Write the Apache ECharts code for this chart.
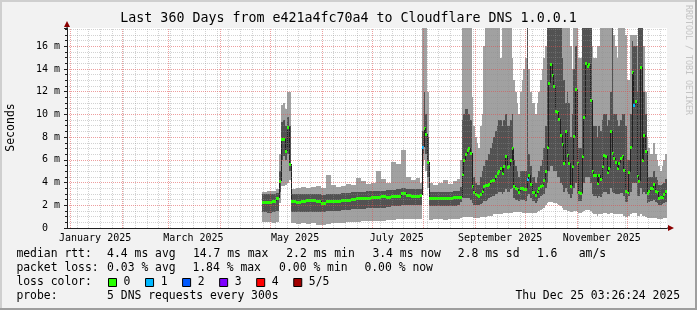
<!DOCTYPE html>
<html><head><meta charset="utf-8">
<script src="https://cdn.jsdelivr.net/npm/echarts@6/dist/echarts.min.js"></script>
<style>html,body{margin:0;padding:0;background:#f2f2f2}#c{width:697px;height:310px}</style>
</head><body><div id="c"></div>
<script>
// ---- time axis (days since 2025-01-01 00:00) ----
const X_MIN = -1.857, X_MAX = 358.143, Y_MAX = 17.6;
const monthStarts = [0,31,59,90,120,151,181,212,243,273,304,334];
const monthLabelDays = [15,74,135,196,258,319];
const monthLabels = ['January 2025','March 2025','May 2025','July 2025','September 2025','November 2025'];
const firstSunday = 4;

// ---- samples: start day of each column, values in ms ----
const startDay = [
 115.1,118,121,123.5,
 125.4,126.4,127.6,128.8,130.0,131.2,
 132.3,135.3,138.3,141.3,144.3,147.3,150.3,153.3,156.3,159.3,162.3,165.3,168.3,171.3,174.3,177.3,180.3,183.3,186.3,189.3,192.3,195.3,198.3,201.3,204.3,207.3,210.0,
 211.2,212.2,213.2,214.2,
 215.2,218,221,224,227,230,232,
 233.9,234.9,235.9,236.9,237.9,238.9,239.9,240.9,241.9,242.9,
 243.9,244.9,245.9,246.9,247.9,248.9,249.9,250.9,251.9,252.9,
 253.9,254.9,255.9,256.9,257.9,258.9,259.9,260.9,261.9,262.9,
 263.9,264.9,265.9,266.9,267.9,268.9,269.9,270.9,271.9,272.9,
 273.9,274.9,275.9,276.9,277.9,278.9,279.9,280.9,281.9,282.9,
 283.9,284.9,285.9,286.9,287.9,288.9,289.9,290.9,291.9,292.9,
 293.9,294.9,295.9,296.9,297.9,298.9,299.9,300.9,301.9,302.9,
 303.9,304.9,305.9,306.9,307.9,308.9,309.9,310.9,311.9,312.9,
 313.9,314.9,315.9,316.9,317.9,318.9,319.9,320.9,321.9,322.9,
 323.9,324.9,325.9,326.9,327.9,328.9,329.9,330.9,331.9,332.9,
 333.9,334.9,335.9,336.9,337.9,338.9,339.9,340.9,341.9,342.9,
 343.9,344.9,345.9,346.9,347.9,348.9,349.9,350.9,351.9,352.9,
 353.9,354.9,355.9,356.9
];
const endDay = 358.1;

const rttMin = [
 0.5,0.5,0.45,0.5,
 2.2,3.7,3.7,3.8,4.0,4.2,
 0.4,0.35,0.4,0.35,0.4,0.3,0.3,0.35,0.4,0.4,0.45,0.5,0.55,0.55,0.6,0.6,0.6,0.65,0.65,0.7,0.7,0.75,0.75,0.75,0.8,0.8,0.8,
 5.5,6.0,5.0,3.5,
 0.7,0.75,0.75,0.7,0.75,0.75,0.8,
 0.9,1.0,1.0,1.0,1.0,1.0,1.0,1.0,0.9,0.9,
 0.9,0.9,1.0,1.0,1.0,1.0,1.1,1.1,1.1,1.1,
 1.2,1.2,1.2,1.2,1.2,1.2,1.3,1.3,1.3,1.3,
 1.3,1.3,1.4,1.4,1.4,1.4,1.4,1.3,1.3,1.3,
 1.3,1.3,1.3,1.3,1.3,1.3,1.4,1.5,1.6,1.7,
 1.8,2.0,2.2,2.3,2.3,2.3,2.2,2.2,2.1,2.0,
 1.9,1.8,1.6,1.6,1.5,1.5,1.4,1.4,1.5,1.5,
 1.4,1.3,1.3,1.4,1.5,1.6,1.6,1.6,1.5,1.3,
 1.2,1.2,1.1,1.2,1.2,1.2,1.3,1.3,1.2,1.2,
 1.3,1.3,1.2,1.2,1.2,1.2,1.2,1.2,1.1,1.0,
 1.0,1.1,1.2,1.3,1.3,1.3,1.1,1.1,1.2,1.1,
 1.1,1.0,0.9,0.9,0.9,0.9,0.9,0.9,0.8,0.8,
 0.8,0.8,0.9,0.9
];
const rttP2 = [
 1.4,1.35,1.4,1.5,
 3.2,6.0,6.3,6.0,6.5,5.0,
 1.4,1.4,1.4,1.45,1.45,1.4,1.4,1.5,1.5,1.5,1.55,1.6,1.65,1.7,1.7,1.75,1.75,1.8,1.8,1.85,1.9,1.95,2.0,2.0,2.0,2.0,2.0,
 6.5,7.5,6.5,4.5,
 1.9,1.9,1.9,1.9,1.95,1.95,2.0,
 2.3,2.6,2.6,2.6,2.6,2.6,2.5,2.2,2.0,2.0,
 2.0,2.0,2.1,2.2,2.4,2.4,2.5,2.6,2.7,2.8,
 2.8,3.0,3.0,3.2,3.2,3.0,3.2,3.4,3.2,3.2,
 3.4,3.5,2.6,2.5,2.5,2.4,2.5,2.5,2.5,2.4,
 2.8,3.0,2.6,2.4,2.4,2.2,2.4,2.6,2.8,2.9,
 3.0,3.5,4.0,5.0,5.5,5.5,5.0,5.0,4.5,4.5,
 4.0,3.8,3.2,3.5,3.2,3.0,2.6,3.0,3.5,4.0,
 3.0,2.4,2.4,3.0,4.0,4.5,4.5,4.5,4.0,3.0,
 2.8,2.8,2.6,2.8,2.7,3.0,3.2,3.2,3.0,3.0,
 3.5,3.2,3.1,3.0,3.0,3.0,3.1,3.1,2.8,2.3,
 2.3,2.8,3.2,4.0,4.0,4.0,2.8,2.8,3.5,3.0,
 3.2,3.0,2.2,2.3,2.4,2.4,2.5,2.3,2.2,2.0,
 2.0,2.1,2.2,2.3
];
const rttMed = [
 2.3,2.3,2.35,2.6,
 4.1,7.8,7.8,6.8,8.9,5.6,
 2.35,2.3,2.35,2.45,2.45,2.35,2.2,2.4,2.4,2.4,2.5,2.5,2.55,2.6,2.6,2.65,2.7,2.75,2.8,2.75,2.8,2.85,3.1,2.9,2.85,2.85,2.9,
 7.1,8.8,8.3,5.8,
 2.6,2.6,2.6,2.65,2.6,2.7,2.7,
 2.7,4.75,6.0,6.5,6.9,7.0,6.6,3.7,3.2,3.0,
 2.9,2.8,3.0,3.3,3.7,3.8,3.8,3.9,4.1,4.2,
 4.2,4.6,4.8,5.0,5.3,4.8,5.5,6.3,5.4,5.5,
 6.0,7.0,3.7,3.5,3.4,3.2,3.5,3.5,3.4,3.4,
 4.3,4.7,3.9,3.2,3.2,2.9,3.3,3.5,3.7,3.8,
 4.2,5.0,7.1,12.8,14.4,13.5,12.5,10.3,10.2,9.6,
 8.2,7.4,5.7,8.5,6.4,5.7,3.7,5.5,8.1,12.2,
 5.7,3.2,3.1,6.3,9.8,14.5,14.3,14.4,11.3,5.0,
 4.7,4.7,4.0,4.7,4.3,5.5,6.4,6.3,4.9,5.3,
 8.5,6.6,6.2,5.8,5.3,5.7,6.2,6.3,5.1,3.3,
 3.2,4.9,7.1,13.7,10.8,11.2,4.6,4.1,14.2,6.0,
 8.2,6.8,3.1,3.3,3.5,3.5,3.9,3.3,3.2,2.6,
 2.7,2.7,3.0,3.3
];
const rttP4 = [
 3.0,2.95,3.0,3.1,
 5.0,9.3,9.5,9.0,9.8,9.0,
 2.95,2.95,3.0,3.0,3.0,2.95,2.9,3.0,3.0,3.0,3.05,3.1,3.15,3.2,3.2,3.25,3.3,3.3,3.3,3.35,3.35,3.4,3.5,3.4,3.4,3.4,3.4,
 8.5,12.0,10.0,8.0,
 3.2,3.2,3.2,3.2,3.2,3.25,3.3,
 3.6,9.5,10.0,10.5,10.5,10.0,9.5,6.0,4.5,4.0,
 3.8,3.8,4.5,5.0,5.5,6.0,6.0,6.5,7.0,7.5,
 8.0,8.5,9.0,9.5,9.5,9.0,9.5,10.0,9.0,9.0,
 9.5,10.0,6.0,5.5,5.0,4.5,5.0,5.0,5.0,5.0,
 20,6.5,5.5,4.5,4.5,4.0,4.5,5.0,5.5,6.0,
 7.0,9.0,20,20,20,20,20,20,20,20,
 20,15,13,11,12,11,8,10,14,16,
 12,7,7,20,20,20,20,20,20,10,
 9,9,8,9,8.5,9.5,10,10,9,9.5,
 12,20,10,10,9.5,9,9.5,10,10,9,
 6,6,10,16.5,16,16,12,20,20,20,
 12,10,4.5,4.5,4.5,4.5,5.0,4.5,4.2,3.8,
 3.8,3.9,4.0,4.3
];
const rttMax = [
 3.2,3.3,3.25,3.4,
 6.5,10.8,11.0,10.5,12.0,12.0,
 3.4,3.5,3.6,3.5,3.6,3.7,3.5,4.7,3.8,3.6,3.7,3.9,3.8,4.4,4.1,3.9,4.0,5.0,4.3,4.0,5.8,5.6,6.9,4.5,4.2,4.4,4.0,
 20,20,20,12.0,
 4.0,3.8,4.0,4.2,3.9,4.1,4.3,
 6.0,20,20,20,20,20,20,11.5,9.0,8.0,
 7.5,7.0,9.0,10.0,16,20,20,20,20,20,
 20,20,20,20,15,20,20,20,20,20,
 20,15,13,12,11,10,12,13,14,15,
 20,14,12,11,11,10,11,12,13,14,
 15,16,20,20,20,20,20,20,20,20,
 20,20,20,20,20,20,16,14,20,20,
 20,15,15,20,20,20,20,20,20,16,
 15,15,16,16,20,20,20,20,20,20,
 20,20,17,16,15,20,20,20,20,17,
 13,13,17,17,17,17,16,20,20,20,
 16,12,8,7,6.5,6.5,7.5,6.5,6.0,5.5,
 5.0,5.5,6.0,6.5
];
// samples whose median shows packet loss (start day, lost pings of 5)
const lossSamples = [[211.2,1],[273.9,1],[337.9,1]];
const lossColors = ['#26ff00','#00b8ff','#0059ff','#7e00ff','#ff0000','#a10000'];
const lossLabels = ['0','1','2','3','4','5/5'];

// legend texts
const statRows = [
 [[16.4,'median rtt:'],[107.1,'4.4 ms avg'],[192.9,'14.7 ms max'],[286.2,'2.2 ms min'],[372.4,'3.4 ms now'],[457.8,'2.8 ms sd'],[536.9,'1.6'],[578.7,'am/s']],
 [[16.4,'packet loss:'],[107.1,'0.03 % avg'],[192.4,'1.84 % max'],[279.1,'0.00 % min'],[364.4,'0.00 % now']],
 [[16.4,'loss color:']],
 [[16.4,'probe:'],[107.1,'5 DNS requests every 300s']]
];
const rowY = [254.3,268.3,282.3,296];
const titleText = 'Last 360 Days from e421a4fc70a4 to Cloudflare DNS 1.0.0.1';
const dateText = 'Thu Dec 25 03:26:24 2025';

// ---- build ----
const FONT = '"DejaVu Sans Mono", monospace';
const LIGHT = '#a1a1a1', DARK = '#525252';
const lossMap = {}; lossSamples.forEach(([d,l]) => lossMap[d] = l);
const rows = startDay.map((d,i) => [d, i+1 < startDay.length ? startDay[i+1] : endDay,
  rttMin[i], rttP2[i], rttMed[i], rttP4[i], rttMax[i], lossMap[d] || 0]);

const weekDays = [];
for (let d = firstSunday; d < X_MAX; d += 7) if (monthStarts.indexOf(d) < 0) weekDays.push(d);
const minorY = [], majorY = [];
for (let v = 0.5; v < Y_MAX; v += 0.5) { if (Math.abs(v/2 - Math.round(v/2)) < 1e-9) majorY.push(v); else minorY.push(v); }

const GRID_MINOR = {color:'rgba(143,143,143,0.4)', width:1, type:[1,1]};
const GRID_MAJOR = {color:'rgba(222,79,79,0.55)', width:1, type:[1,1]};
const gridLines = []
  .concat(weekDays.map(d => ({xAxis:d, lineStyle:GRID_MINOR})))
  .concat(minorY.map(v => ({yAxis:v, lineStyle:GRID_MINOR})))
  .concat(monthStarts.map(d => ({xAxis:d, lineStyle:GRID_MAJOR})))
  .concat(majorY.map(v => ({yAxis:v, lineStyle:GRID_MAJOR})));

function clampV(v){ return Math.max(0, Math.min(v, Y_MAX)); }

const graphics = [];
graphics.push({type:'rect', shape:{x:0,y:0,width:697,height:2}, style:{fill:'#cfcfcf'}, silent:true});
graphics.push({type:'rect', shape:{x:0,y:0,width:2,height:310}, style:{fill:'#cfcfcf'}, silent:true});
graphics.push({type:'rect', shape:{x:0,y:308,width:697,height:2}, style:{fill:'#9e9e9e'}, silent:true});
graphics.push({type:'rect', shape:{x:695,y:0,width:2,height:310}, style:{fill:'#9e9e9e'}, silent:true});
graphics.push({type:'text', x:348.5, y:19, style:{text:titleText, font:'13.3px '+FONT, fill:'#000', align:'center', verticalAlign:'middle'}});
graphics.push({type:'text', x:11, y:127.5, rotation:Math.PI/2, style:{text:'Seconds', font:'11.5px '+FONT, fill:'#000', align:'center', verticalAlign:'middle'}});
graphics.push({type:'text', x:688.5, y:60, rotation:-Math.PI/2, style:{text:'RRDTOOL / TOBI OETIKER', font:'8.3px '+FONT, fill:'#c4c4c4', align:'center', verticalAlign:'middle'}});
statRows.forEach((r,ri) => r.forEach(([x,t]) => graphics.push({type:'text', x:x, y:rowY[ri], style:{text:t, font:'11.4px '+FONT, fill:'#000', verticalAlign:'middle'}})));
graphics.push({type:'text', x:680, y:rowY[3], style:{text:dateText, font:'11.4px '+FONT, fill:'#000', align:'right', verticalAlign:'middle'}});
lossColors.forEach((c,i) => {
  const bx = 108 + i*37.05;
  graphics.push({type:'rect', shape:{x:bx+0.5, y:278.5, width:8, height:8}, style:{fill:c, stroke:'#000', lineWidth:1}});
  graphics.push({type:'text', x:bx+15.6, y:rowY[2], style:{text:lossLabels[i], font:'11.4px '+FONT, fill:'#000', verticalAlign:'middle'}});
});

const chart = echarts.init(document.getElementById('c'), null, {renderer:'canvas'});
chart.setOption({
  animation:false,
  backgroundColor:'#f2f2f2',
  grid:{left:67, top:28, width:600, height:200, show:true, backgroundColor:'#ffffff', borderWidth:0},
  xAxis:{type:'value', min:X_MIN, max:X_MAX, z:6,
    axisLine:{show:true, onZero:false, lineStyle:{color:'#202020', width:1}},
    axisTick:{show:false}, splitLine:{show:false},
    axisLabel:{customValues:monthLabelDays, formatter:v => { const k = monthLabelDays.indexOf(v); return k>=0 ? monthLabels[k] : ''; },
      fontFamily:FONT, fontSize:10, color:'#000', margin:5, hideOverlap:false}},
  yAxis:{type:'value', min:0, max:Y_MAX, interval:2, z:6,
    axisLine:{show:true, onZero:false, lineStyle:{color:'#202020', width:1}},
    axisTick:{show:true, length:3, lineStyle:{color:'#202020'}},
    minorTick:{show:true, splitNumber:4, length:2, lineStyle:{color:'#202020'}},
    splitLine:{show:false},
    axisLabel:{formatter:v => v===0 ? '0  ' : (Math.abs(v%2)<1e-9 ? v+' m' : ''), fontFamily:FONT, fontSize:10, color:'#000', margin:7}},
  graphic:{elements:graphics},
  series:[
    {type:'custom', z:2, data:rows, encode:{x:[0,1], y:[2,6]}, silent:true,
     renderItem:(p, api) => {
       const d0 = api.value(0), d1 = api.value(1);
       const x0 = Math.round(api.coord([d0,0])[0]), x1 = Math.round(api.coord([d1,0])[0]);
       const yy = v => Math.round(api.coord([d0, clampV(v)])[1]);
       const v = [api.value(2), api.value(3), api.value(5), api.value(6)];
       const bands = [[v[0],v[1],LIGHT],[v[1],v[2],DARK],[v[2],v[3],LIGHT]];
       return {type:'group', children: bands.map(([a,b,c]) => ({type:'rect',
         shape:{x:x0, y:yy(b), width:Math.max(1,x1-x0), height:yy(a)-yy(b)}, style:{fill:c}}))};
     }},
    {type:'custom', z:3, data:rows, encode:{x:[0,1], y:4}, silent:true,
     renderItem:(p, api) => {
       const i = p.dataIndex;
       const d0 = api.value(0), d1 = api.value(1);
       const x0 = Math.round(api.coord([d0,0])[0]), x1 = Math.round(api.coord([d1,0])[0]);
       const ym = Math.round(api.coord([d0, clampV(api.value(4))])[1]);
       const ch = [];
       if (i > 0) {
         const yp = Math.round(api.coord([d0, clampV(rttMed[i-1])])[1]);
         ch.push({type:'line', shape:{x1:x0+0.5, y1:yp, x2:x0+0.5, y2:ym}, style:{stroke:'#202020', lineWidth:1}});
       }
       ch.push({type:'rect', shape:{x:x0, y:ym-1, width:Math.max(2,x1-x0), height:3}, style:{fill:lossColors[api.value(7)]}});
       return {type:'group', children:ch};
     }},
    {type:'line', z:5, data:[], silent:true,
     markLine:{silent:true, symbol:['none','none'], label:{show:false}, animation:false, data:gridLines}}
  ]
});
const o = chart.convertToPixel({gridIndex:0}, [X_MIN, 0]);
const e = chart.convertToPixel({gridIndex:0}, [X_MAX, Y_MAX]);
chart.setOption({graphic:{elements:graphics.concat([
  {type:'rect', shape:{x:o[0]-0.5, y:e[1]-3, width:1, height:4}, style:{fill:'#202020'}},
  {type:'polygon', shape:{points:[[o[0],e[1]-7],[o[0]-3,e[1]-1],[o[0]+3,e[1]-1]]}, style:{fill:'#8b0000'}},
  {type:'rect', shape:{x:e[0], y:o[1]-0.5, width:2, height:1}, style:{fill:'#202020'}},
  {type:'polygon', shape:{points:[[e[0]+7,o[1]],[e[0]+1,o[1]-3],[e[0]+1,o[1]+3]]}, style:{fill:'#8b0000'}}
])}});
</script></body></html>
